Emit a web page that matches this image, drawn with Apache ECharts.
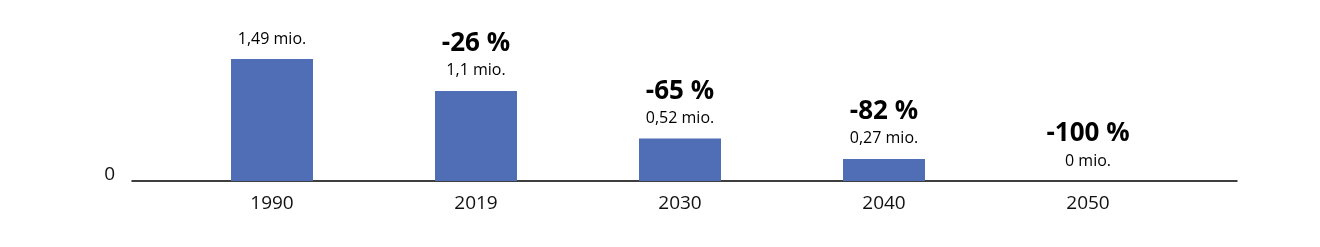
<!DOCTYPE html>
<html><head><meta charset="utf-8">
<script src="https://cdn.jsdelivr.net/npm/echarts@6/dist/echarts.min.js"></script>
<style>html,body{margin:0;padding:0;background:#fff}#c{width:1320px;height:247px}</style>
</head><body><div id="c"></div>
<script>
const categories = ['1990', '2019', '2030', '2040', '2050'];
const values = [1.49, 1.1, 0.52, 0.27, 0];
const valueLabels = ['1,49 mio.', '1,1 mio.', '0,52 mio.', '0,27 mio.', '0 mio.'];
const pctLabels = ['', '-26 %', '-65 %', '-82 %', '-100 %'];
const yTicks = ['0'];

const font = '"Open Sans", "Noto Sans", sans-serif';
const chart = echarts.init(document.getElementById('c'), null, {renderer: 'canvas'});
chart.setOption({
  animation: false,
  textStyle: {fontFamily: font},
  grid: [
    {left: 170, right: 130, top: 0, bottom: 66},
    {left: 132, right: 83, top: 0, bottom: 66}
  ],
  xAxis: [
    {type: 'category', gridIndex: 0, data: categories,
     axisLine: {show: false}, axisTick: {show: false},
     axisLabel: {color: '#111', fontSize: 19, margin: 13, fontFamily: font}},
    {type: 'value', gridIndex: 1, min: 0, max: 1,
     axisLine: {show: true, onZero: false, lineStyle: {color: '#000', width: 1.5}},
     axisTick: {show: false}, axisLabel: {show: false}, splitLine: {show: false}}
  ],
  yAxis: [
    {type: 'value', gridIndex: 0, min: 0, max: 2.21, show: false, splitLine: {show: false}},
    {type: 'value', gridIndex: 1, min: 0, max: 1, interval: 1,
     axisLine: {show: false}, axisTick: {show: false}, splitLine: {show: false},
     axisLabel: {color: '#111', fontSize: 19, margin: 17, verticalAlign: 'bottom', lineHeight: 12,
       fontFamily: font,
       formatter: v => v === 0 ? yTicks[0] : ''}}
  ],
  series: [{
    type: 'bar', xAxisIndex: 0, yAxisIndex: 0,
    data: values, barWidth: 82,
    itemStyle: {color: '#4F6EB5'},
    label: {
      show: true, position: 'top', distance: 10, color: '#000',
      formatter: p => (pctLabels[p.dataIndex] ? '{pct|' + pctLabels[p.dataIndex] + '}\n' : '') + '{mio|' + valueLabels[p.dataIndex] + '}',
      rich: {
        pct: {fontSize: 26, fontWeight: 'bold', lineHeight: 34, color: '#000', fontFamily: font},
        mio: {fontSize: 16, lineHeight: 20, color: '#000', fontFamily: font}
      }
    }
  }]
});
</script></body></html>
